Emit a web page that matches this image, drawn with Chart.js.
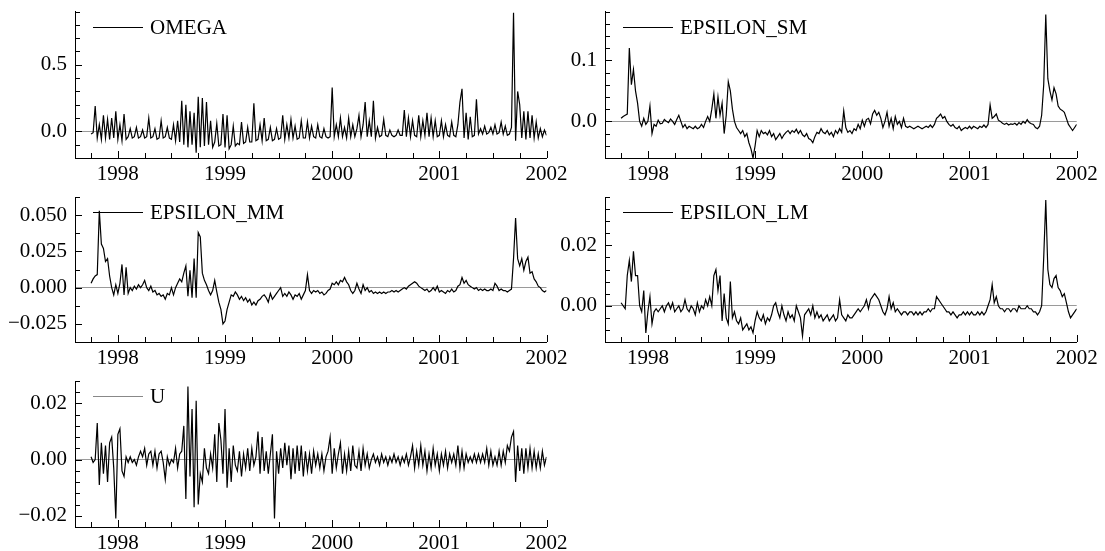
<!DOCTYPE html>
<html>
<head>
<meta charset="utf-8">
<script src="https://cdn.jsdelivr.net/npm/chart.js@4.4.1/dist/chart.umd.min.js"></script>
<style>
  body { margin: 0; background: #fff; }
  #wrap { position: relative; width: 1105px; height: 551px; overflow: hidden; }
  canvas { position: absolute; }
</style>
</head>
<body>
<div id="wrap"></div>
<script>
// weekly readings, first week = start of Oct 1997
const startYear = 1997.75;
const weeksPerYear = 52;

const xMin = 1997.6;
const xMax = 2002;
const yearLabels = [1998, 1999, 2000, 2001, 2002];

// one line per quarter, 1997Q4 .. 2001Q4, plus the last point
const omega = [
  -0.02, -0.01, 0.19, -0.05, 0.05, -0.06, 0.12, -0.05, 0.09, -0.06, 0.1, -0.05, 0.15,
  -0.06, 0.05, -0.07, 0.13, -0.06, -0.04, 0.02, -0.05, -0.04, 0.03, -0.05, -0.04, 0.01,
  -0.05, -0.04, 0.1, -0.05, -0.04, 0.02, -0.06, -0.05, 0.08, -0.05, -0.04, 0.03, -0.05,
  -0.06, 0.05, -0.07, 0.08, -0.08, 0.23, -0.1, 0.2, -0.12, 0.15, -0.1, 0.14, -0.16,
  0.26, -0.12, 0.25, -0.11, 0.22, -0.1, 0.08, -0.12, -0.08, 0.06, -0.11, -0.1, 0.13,
  -0.12, 0.12, -0.13, -0.1, 0.04, -0.11, -0.09, -0.1, 0.07, -0.09, -0.08, 0.03, -0.08,
  -0.08, 0.21, -0.07, -0.06, 0.05, -0.07, 0.1, -0.07, -0.06, 0.03, -0.07, -0.06, 0.02,
  -0.06, -0.05, 0.12, -0.06, 0.05, -0.05, 0.09, -0.05, 0.04, -0.06, -0.05, 0.08, -0.05,
  -0.05, 0.07, -0.05, 0.04, -0.04, -0.05, 0.05, -0.04, -0.05, 0.02, -0.04, -0.05, -0.04,
  0.33, -0.04, 0.05, -0.04, 0.1, -0.04, 0.03, -0.05, 0.1, -0.04, 0.05, -0.04, 0.02,
  0.12, -0.04, 0.05, 0.22, -0.04, 0.08, -0.04, 0.23, -0.05, 0.03, -0.04, -0.03, 0.09,
  -0.03, -0.04, 0.01, -0.03, -0.04, -0.03, 0.01, -0.03, -0.03, 0.16, -0.04, 0.1, -0.04,
  0.08, -0.03, -0.04, 0.12, -0.04, 0.08, -0.03, 0.14, -0.04, 0.1, -0.04, 0.08, -0.04,
  -0.03, 0.08, -0.04, 0.05, -0.03, -0.04, 0.07, -0.03, -0.04, 0.05, 0.22, 0.32, -0.05,
  0.14, -0.06, 0.11, -0.04, -0.03, 0.24, -0.02, 0.02, -0.02, 0.04, -0.02, -0.01, 0.03,
  -0.02, 0.05, -0.02, -0.01, 0.07, -0.02, 0.04, -0.03, -0.02, 0.03, 0.89, -0.07, 0.3,
  0.2, -0.05, 0.15, -0.06, 0.15, -0.05, 0.12, -0.05, 0.07, -0.05, 0.02, -0.04, 0.01,
  -0.03
];

const epsilonSM = [
  0.005, 0.008, 0.01, 0.012, 0.12, 0.06, 0.085, 0.05, 0.03, 0.0, -0.008, 0.005, -0.005,
  0.0, 0.025, -0.02, -0.005, -0.008, 0.002, -0.004, -0.003, 0.003, 0.0, -0.002, 0.004, 0.0,
  -0.005, 0.003, 0.01, 0.0, -0.01, -0.005, -0.012, -0.008, -0.01, -0.012, -0.008, -0.012, -0.01,
  -0.005, -0.01, 0.0, 0.008, 0.0, 0.02, 0.045, 0.005, 0.04, 0.01, 0.03, -0.02, 0.01,
  0.065, 0.05, 0.02, 0.0, -0.01, -0.015, -0.02, -0.015, -0.025, -0.02, -0.035, -0.045, -0.06,
  -0.04, -0.015, -0.025, -0.015, -0.02, -0.018, -0.022, -0.015, -0.025, -0.02, -0.03, -0.025, -0.02,
  -0.028, -0.022, -0.018, -0.015, -0.02, -0.015, -0.018, -0.013, -0.02, -0.015, -0.022, -0.025, -0.02,
  -0.028, -0.03, -0.035, -0.025, -0.018, -0.02, -0.012, -0.018, -0.02, -0.015, -0.022, -0.018, -0.025,
  -0.015, -0.02, -0.012, -0.018, 0.017, -0.01, -0.018, -0.015, -0.02, -0.012, -0.015, -0.005, -0.012,
  0.002, -0.008, 0.003, 0.005, -0.004, 0.012, 0.018, 0.01, 0.015, 0.005, -0.01, 0.0, 0.015,
  -0.008, 0.005, -0.012, 0.008, -0.005, 0.0, -0.01, 0.005, -0.008, -0.01, -0.008, -0.01, -0.012,
  -0.01, -0.008, -0.01, -0.012, -0.01, -0.008, -0.01, -0.006, -0.01, -0.005, 0.005, 0.008, 0.012,
  0.005, 0.008, 0.0, -0.005, -0.008, -0.005, -0.01, -0.012, -0.008, -0.015, -0.012, -0.01, -0.012,
  -0.008, -0.012, -0.008, -0.01, -0.012, -0.008, -0.01, -0.006, -0.01, -0.005, 0.027, 0.005, 0.008,
  0.012, 0.002, 0.0, -0.003, -0.005, -0.003, -0.006, -0.004, -0.005, -0.003, -0.006, -0.002, -0.005,
  0.0, -0.003, 0.003, -0.002, -0.004, -0.005, -0.01, -0.012, -0.008, 0.01, 0.06, 0.175, 0.07,
  0.05, 0.035, 0.055, 0.045, 0.025, 0.02, 0.018, 0.015, 0.005, -0.005, -0.01, -0.015, -0.01,
  -0.005
];

const epsilonMM = [
  0.003, 0.006, 0.008, 0.009, 0.053, 0.03, 0.027, 0.018, 0.02, 0.008, 0.0, -0.005, 0.002,
  -0.004, 0.003, 0.016, -0.005, 0.014, -0.004, 0.0, -0.002, 0.001, -0.001, 0.002, 0.0, 0.002,
  0.005, 0.0, -0.002, 0.001, -0.003, -0.002, -0.005, -0.004, -0.006, -0.005, -0.008, -0.004, -0.005,
  0.0, -0.005, 0.0, 0.003, 0.006, 0.004, 0.01, 0.015, -0.006, 0.012, -0.007, 0.02, -0.007,
  0.038, 0.035, 0.01, 0.005, 0.002, -0.002, -0.005, -0.002, 0.005, -0.003, -0.01, -0.015, -0.025,
  -0.023, -0.015, -0.01, -0.005, -0.006, -0.003, -0.005, -0.008, -0.006, -0.009, -0.007, -0.01, -0.008,
  -0.012, -0.01, -0.012, -0.009, -0.008, -0.006, -0.005, -0.007, -0.01, -0.004, -0.008, -0.006, -0.004,
  -0.002, 0.0, -0.006, -0.004, -0.006, -0.003, -0.005, -0.008, -0.005, -0.006, -0.004, -0.008, -0.005,
  -0.002, 0.009, -0.002, -0.004, -0.002, -0.003, -0.002, -0.004, -0.003, -0.005, -0.004, -0.002, -0.001,
  0.003, 0.002, 0.004, 0.002, 0.005, 0.004, 0.007, 0.004, 0.002, -0.002, -0.004, -0.002, 0.003,
  -0.001, -0.004, 0.002, -0.002, 0.0, -0.003, -0.002, -0.004, -0.003, -0.004, -0.003, -0.004, -0.003,
  -0.004, -0.003, -0.003, -0.002, -0.003, -0.002, -0.003, -0.002, -0.001, 0.0, -0.001, 0.001, 0.002,
  0.003, 0.004, 0.003, 0.001, 0.0, -0.001, -0.002, -0.001, -0.003, -0.002, 0.0, -0.002, 0.001,
  -0.003, -0.002, -0.003, -0.004, -0.002, -0.003, -0.001, -0.003, -0.002, 0.001, 0.002, 0.007, 0.003,
  0.005, 0.002, 0.001, 0.0, -0.001, 0.0, -0.002, -0.001, -0.002, -0.001, -0.002, -0.002, -0.001,
  -0.002, 0.003, 0.001, -0.002, -0.001, -0.002, -0.002, -0.003, -0.002, -0.001, 0.02, 0.048, 0.02,
  0.015, 0.02, 0.012, 0.018, 0.021, 0.01, 0.011, 0.006, 0.004, 0.001, 0.0, -0.002, -0.003,
  -0.002
];

const epsilonLM = [
  0.001, 0.0, -0.001, 0.01, 0.015, 0.008, 0.018, 0.01, 0.01, 0.0, -0.002, 0.005, -0.009,
  -0.002, 0.003, -0.006, -0.002, -0.001, -0.002, -0.001, 0.0, -0.002, 0.0, 0.001, -0.001, 0.001,
  -0.002, -0.001, 0.0, -0.002, -0.001, 0.002, -0.001, -0.002, 0.0, -0.001, -0.003, 0.001, -0.002,
  0.0, -0.001, 0.002, 0.0, 0.003, 0.0, 0.01, 0.012, 0.005, 0.01, -0.005, 0.004, -0.004,
  -0.006, 0.008, -0.004, -0.002, -0.005, -0.006, -0.004, -0.008, -0.007, -0.006, -0.008, -0.007, -0.009,
  -0.005, -0.002, -0.004, -0.005, -0.003, -0.006, -0.004, -0.005, -0.003, 0.0, 0.001, -0.002, -0.004,
  0.0, -0.003, -0.005, -0.002, -0.004, -0.003, -0.005, 0.0, -0.002, -0.004, -0.01, -0.003, -0.002,
  -0.001, -0.003, 0.0, -0.004, -0.002, -0.004, -0.003, -0.005, -0.004, -0.003, -0.005, -0.004, -0.003,
  -0.005, -0.004, 0.002, -0.003, -0.004, -0.005, -0.003, -0.004, -0.004, -0.003, -0.002, -0.001, -0.002,
  -0.001, 0.0, 0.002, -0.001, 0.002, 0.003, 0.004, 0.003, 0.002, 0.0, -0.002, -0.003, -0.001,
  0.003, -0.001, 0.001, -0.002, -0.001, -0.002, -0.003, -0.002, -0.002, -0.003, -0.002, -0.002, -0.003,
  -0.002, -0.003, -0.002, -0.003, -0.002, -0.002, -0.001, -0.002, -0.001, -0.001, 0.003, 0.002, 0.001,
  0.0, -0.001, -0.002, -0.002, -0.003, -0.002, -0.003, -0.004, -0.003, -0.003, -0.002, -0.003, -0.002,
  -0.003, -0.002, -0.003, -0.003, -0.002, -0.003, -0.002, -0.003, -0.002, 0.0, 0.002, 0.007, 0.001,
  0.003, 0.0, -0.001, -0.001, -0.002, -0.001, -0.001, -0.002, -0.001, -0.001, -0.002, 0.0, -0.001,
  -0.001, -0.001, 0.0, -0.001, -0.001, -0.002, -0.002, -0.003, -0.002, 0.0, 0.016, 0.035, 0.012,
  0.007, 0.006, 0.009, 0.01, 0.006, 0.005, 0.003, 0.004, 0.001, -0.002, -0.004, -0.003, -0.002,
  -0.001
];

const u = [
  0.001, -0.001, 0.0, 0.013, -0.009, 0.006, -0.005, 0.005, -0.008, 0.006,
  0.008, -0.003, -0.021, 0.009, 0.011, -0.004, -0.006, 0.001, -0.001, 0.001,
  -0.001, 0.0, -0.002, 0.001, 0.003, 0.001, 0.004, -0.002, 0.002, 0.003,
  -0.002, 0.003, -0.003, 0.002, 0.003, -0.001, -0.007, 0.001, -0.002, 0.0,
  -0.001, 0.004, -0.003, 0.002, 0.003, 0.012, -0.014, 0.026, -0.006, 0.018,
  -0.017, 0.021, -0.016, -0.005, -0.008, 0.004, -0.003, -0.005, 0.002, -0.003,
  0.009, -0.008, 0.013, 0.007, -0.005, 0.018, -0.01, 0.004, -0.008, 0.005,
  -0.002, -0.004, 0.003, -0.006, 0.002, -0.003, 0.004, -0.004, 0.004, -0.002,
  0.001, 0.01, -0.005, 0.008, -0.004, 0.003, -0.005, 0.002, 0.009, -0.021,
  0.003, -0.005, 0.004, -0.003, 0.006, -0.002, 0.005, -0.007, 0.004, -0.005,
  0.005, -0.004, 0.005, -0.006, 0.003, -0.004, 0.002, -0.005, 0.003, -0.002,
  0.002, -0.003, 0.002, -0.004, 0.001, 0.003, 0.008, -0.005, 0.004, -0.003,
  0.002, 0.006, -0.005, 0.002, -0.004, 0.003, -0.004, 0.005, -0.002, -0.003,
  0.003, -0.004, 0.004, -0.002, 0.002, -0.003, 0.0, 0.002, -0.001, 0.001,
  -0.002, 0.002, -0.001, 0.001, -0.002, 0.001, -0.001, 0.002, -0.001, 0.001,
  -0.002, 0.001, -0.001, 0.002, -0.002, 0.001, 0.005, -0.003, 0.003, -0.002,
  0.005, -0.002, 0.003, -0.004, 0.002, -0.003, 0.004, -0.002, 0.002, -0.004,
  0.002, -0.002, 0.003, -0.003, 0.002, -0.001, 0.002, -0.002, 0.005, -0.003,
  0.003, -0.003, 0.002, -0.001, 0.001, -0.001, 0.002, -0.001, 0.002, -0.001,
  0.002, -0.001, 0.004, -0.002, 0.003, -0.002, 0.001, -0.002, 0.003, -0.002,
  0.003, -0.001, 0.005, 0.003, 0.008, 0.01, -0.008, 0.005, -0.004, 0.004,
  -0.005, 0.004, -0.003, 0.004, -0.003, 0.003, -0.003, 0.002, -0.003, 0.003, -0.002, 0.001
];

// y tick labels per panel: [value, text]
const omegaLabels = [[0, "0.0"], [0.5, "0.5"]];
const smLabels = [[0, "0.0"], [0.1, "0.1"]];
const mmLabels = [[-0.025, "\u22120.025"], [0, "0.000"], [0.025, "0.025"], [0.05, "0.050"]];
const lmLabels = [[0, "0.00"], [0.02, "0.02"]];
const uLabels = [[-0.02, "\u22120.02"], [0, "0.00"], [0.02, "0.02"]];

const FONT = "'Liberation Serif', 'Times New Roman', 'DejaVu Serif', serif";
const FONT_SIZE = 21;

// inner tick marks + legend line/text
const panelDecor = {
  id: "panelDecor",
  afterDraw(chart, args, opts) {
    const { ctx, chartArea: a, scales } = chart;
    const x = scales.x, y = scales.y;
    ctx.save();
    ctx.strokeStyle = "#000";
    ctx.lineWidth = 1;
    ctx.beginPath();
    x.ticks.forEach((t) => {
      const px = Math.round(x.getPixelForValue(t.value)) + 0.5;
      const len = t.label ? 7 : 5;
      ctx.moveTo(px, a.bottom);
      ctx.lineTo(px, a.bottom - len);
    });
    y.ticks.forEach((t) => {
      const py = Math.round(y.getPixelForValue(t.value)) + 0.5;
      const len = t.label ? 7 : 5;
      ctx.moveTo(a.left, py);
      ctx.lineTo(a.left + len, py);
    });
    ctx.stroke();

    const ly = Math.round(a.top + 15) + 0.5;
    ctx.strokeStyle = opts.lineColor || "#000";
    ctx.beginPath();
    ctx.moveTo(a.left + 18, ly);
    ctx.lineTo(a.left + 68, ly);
    ctx.stroke();
    ctx.fillStyle = "#000";
    ctx.font = FONT_SIZE + "px " + FONT;
    ctx.textBaseline = "middle";
    ctx.fillText(opts.label, a.left + 75, ly + 1);
    ctx.restore();
  },
};

function makeTicks(min, max, step) {
  const out = [];
  const k0 = Math.round(min / step), k1 = Math.round(max / step);
  for (let k = k0; k <= k1; k++) out.push({ value: +(k * step).toFixed(6) });
  return out;
}

function drawPanel(p) {
  const canvas = document.createElement("canvas");
  canvas.width = p.w;
  canvas.height = p.h;
  canvas.style.left = p.left + "px";
  canvas.style.top = p.top + "px";
  document.getElementById("wrap").appendChild(canvas);

  const points = p.values.map((v, i) => ({ x: startYear + i / weeksPerYear, y: v }));

  new Chart(canvas, {
    type: "line",
    data: {
      datasets: [
        {
          data: points,
          borderColor: "#000",
          borderWidth: 1.2,
          pointRadius: 0,
          tension: 0,
        },
      ],
    },
    options: {
      responsive: false,
      animation: false,
      layout: { padding: { top: p.padTop, right: p.padRight, left: 0, bottom: 0 } },
      plugins: {
        legend: { display: false },
        tooltip: { enabled: false },
        panelDecor: { label: p.name, lineColor: p.legendColor },
      },
      scales: {
        x: {
          type: "linear",
          min: xMin,
          max: xMax,
          afterBuildTicks: (s) => { s.ticks = makeTicks(1997.75, 2002, 0.25); },
          afterFit: (s) => {
            s.height = p.xHeight;
            s.paddingLeft = 0;
            s.paddingRight = 0;
          },
          ticks: {
            autoSkip: false,
            maxRotation: 0,
            padding: 6,
            color: "#000",
            font: { family: FONT, size: FONT_SIZE, lineHeight: 1 },
            callback: (v) => (yearLabels.includes(v) ? String(v) : ""),
          },
          grid: { display: false, drawTicks: false },
          border: { display: true, color: "#000", width: 1 },
        },
        y: {
          type: "linear",
          min: p.yMin,
          max: p.yMax,
          afterBuildTicks: (s) => { s.ticks = makeTicks(p.yMin, p.yMax, p.yStep); },
          afterFit: (s) => {
            s.width = p.yWidth;
            s.paddingTop = 0;
            s.paddingBottom = 0;
          },
          ticks: {
            autoSkip: false,
            padding: 8,
            color: "#000",
            font: { family: FONT, size: FONT_SIZE, lineHeight: 1 },
            callback: (v) => {
              const hit = p.labels.find((l) => Math.abs(l[0] - v) < 1e-9);
              return hit ? hit[1] : "";
            },
          },
          grid: {
            drawTicks: false,
            lineWidth: 1,
            color: (c) => (c.tick && Math.abs(c.tick.value) < 1e-9 ? "#9a9a9a" : "rgba(0,0,0,0)"),
          },
          border: { display: true, color: "#000", width: 1 },
        },
      },
    },
    plugins: [panelDecor],
  });
}

// left column canvases start at 0, right column at 540
const rows = [
  { top: 0, h: 190, padTop: 11.5, xHeight: 32 },
  { top: 180, h: 195, padTop: 17, xHeight: 33 },
  { top: 365, h: 186, padTop: 16, xHeight: 24 },
];
const left = { left: 0, w: 580, yWidth: 75, padRight: 33.5 };
const right = { left: 540, w: 565, yWidth: 65, padRight: 28.3 };

drawPanel({ ...left, ...rows[0], name: "OMEGA", values: omega, labels: omegaLabels,
  yMin: -0.2, yMax: 0.9, yStep: 0.1, legendColor: "#000" });
drawPanel({ ...right, ...rows[0], name: "EPSILON_SM", values: epsilonSM, labels: smLabels,
  yMin: -0.06, yMax: 0.18, yStep: 0.02, legendColor: "#000" });
drawPanel({ ...left, ...rows[1], name: "EPSILON_MM", values: epsilonMM, labels: mmLabels,
  yMin: -0.0375, yMax: 0.0625, yStep: 0.0125, legendColor: "#000" });
drawPanel({ ...right, ...rows[1], name: "EPSILON_LM", values: epsilonLM, labels: lmLabels,
  yMin: -0.012, yMax: 0.036, yStep: 0.004, legendColor: "#000" });
drawPanel({ ...left, ...rows[2], name: "U", values: u, labels: uLabels,
  yMin: -0.024, yMax: 0.028, yStep: 0.004, legendColor: "#888" });
</script>
</body>
</html>
